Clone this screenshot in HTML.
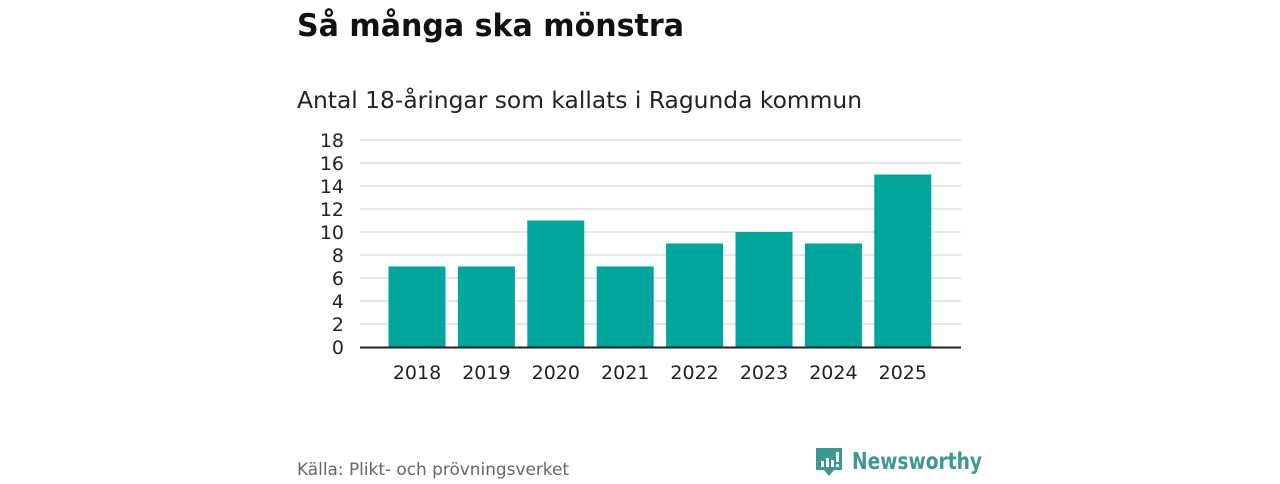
<!DOCTYPE html>
<html><head><meta charset="utf-8"><style>
body{margin:0;width:1280px;height:480px;background:#fff;font-family:"DejaVu Sans","Liberation Sans",sans-serif;overflow:hidden}
</style></head><body>
<svg width="1280" height="480">
<text x="297" y="36" font-size="31" font-weight="bold" fill="#111" textLength="387" lengthAdjust="spacingAndGlyphs">Så många ska mönstra</text>
<text x="297" y="108" font-size="23" fill="#222" textLength="565" lengthAdjust="spacingAndGlyphs">Antal 18-åringar som kallats i Ragunda kommun</text>
<g id="grid"></g><g id="bars"></g><g id="xl"></g>
<line x1="360" y1="347.5" x2="961" y2="347.5" stroke="#222" stroke-width="2"/>
<text x="297" y="475" font-size="16.5" fill="#666" textLength="272" lengthAdjust="spacingAndGlyphs">Källa: Plikt- och prövningsverket</text>
<g>
<path d="M816 448h26v22h-8l-5 6l-5-6h-8z" fill="#3a9a93"/>
<rect x="821" y="461" width="3" height="6" fill="#fff"/><rect x="826" y="458" width="3" height="9" fill="#fff"/><rect x="831" y="460" width="3" height="7" fill="#fff"/><rect x="836" y="452" width="3" height="10" fill="#fff"/><rect x="836" y="464" width="3" height="3" fill="#fff"/>
<text x="852" y="469" font-size="23" font-weight="bold" fill="#3a9a93" textLength="130" lengthAdjust="spacingAndGlyphs">Newsworthy</text>
</g>
</svg>
<script>
const years=["2018","2019","2020","2021","2022","2023","2024","2025"];
const values=[7,7,11,7,9,10,9,15];
const yTicks=[0,2,4,6,8,10,12,14,16,18];
const NS="http://www.w3.org/2000/svg";
const y=v=>347-v*(207/18);
const band=69.4,x0=382.3;
const x=i=>x0+i*band;
const g=document.getElementById('grid'),b=document.getElementById('bars'),xl=document.getElementById('xl');
function mk(t,a,p){const e=document.createElementNS(NS,t);for(const k in a)e.setAttribute(k,a[k]);p.appendChild(e);return e;}
yTicks.forEach(v=>{
 if(v>0){const l=mk('line',{x1:360,x2:961,y1:y(v),y2:y(v),stroke:'#ddd','stroke-width':1.5},g);
 
 }
 const t=mk('text',{x:344,y:y(v)+7,'font-size':19,'text-anchor':'end',fill:'#222'},g);t.textContent=v;
 
 
});
years.forEach((yr,i)=>{
 const r=mk('rect',{x:x(i)+6.2,y:y(values[i]),width:57,height:347-y(values[i]),fill:'#00a59b'},b);
 
 
 const t=mk('text',{x:x(i)+band/2,y:379,'font-size':19,'text-anchor':'middle',fill:'#222'},xl);t.textContent=yr;
 
 
});
</script>
</body></html>
